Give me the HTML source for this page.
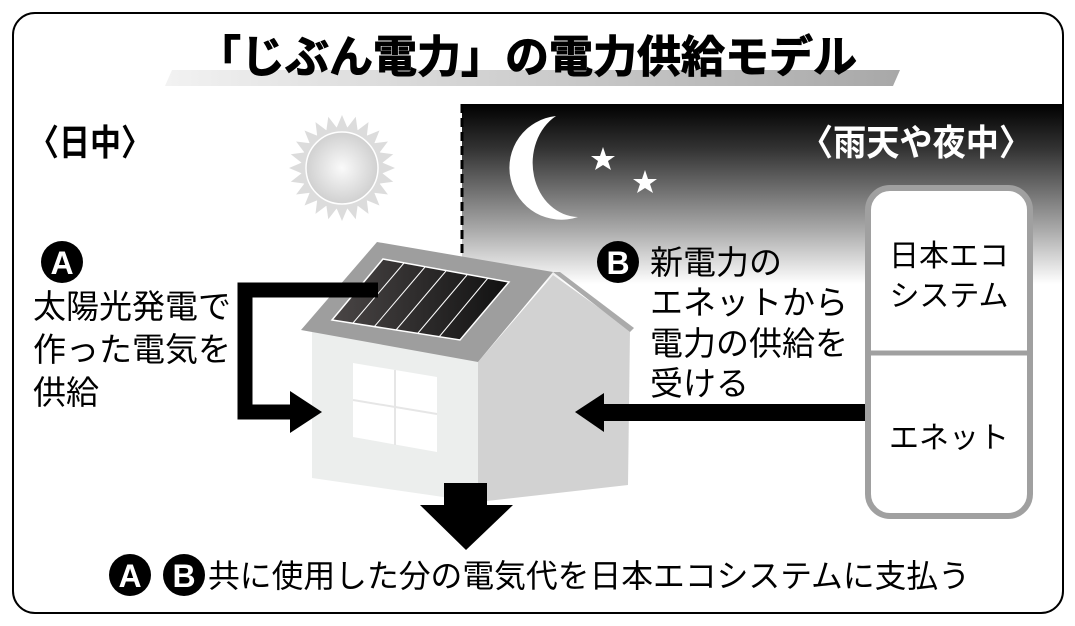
<!DOCTYPE html>
<html><head><meta charset="utf-8"><style>
html,body{margin:0;padding:0;background:#fff}
svg{display:block}
text{font-family:"Liberation Sans","Noto Sans CJK JP",sans-serif}
</style></head><body>
<svg width="1075" height="626" viewBox="0 0 1075 626" xmlns="http://www.w3.org/2000/svg">
<defs>
<linearGradient id="night" x1="0" y1="0" x2="0" y2="1">
<stop offset="0" stop-color="#000"/><stop offset="0.25" stop-color="#333"/><stop offset="0.7" stop-color="#aaa"/><stop offset="1" stop-color="#fff"/></linearGradient>
<linearGradient id="band" x1="0" y1="0" x2="1" y2="0">
<stop offset="0" stop-color="#f2f2f2"/><stop offset="1" stop-color="#a8a8a8"/></linearGradient>
<radialGradient id="sun" cx="0.5" cy="0.5" r="0.5"><stop offset="0" stop-color="#fafafa"/><stop offset="1" stop-color="#d0d0d0"/></radialGradient>
<linearGradient id="panel" x1="0" y1="0" x2="1" y2="0"><stop offset="0" stop-color="#4a4646"/><stop offset="1" stop-color="#111"/></linearGradient>
<clipPath id="clipb"><rect x="13" y="13" width="1050" height="600" rx="22"/></clipPath>
<polygon id="ray" points="342,115 347.5,128 336.5,128" fill="#dcdcdc"/>
</defs>
<g clip-path="url(#clipb)">
<rect x="462" y="104" width="610" height="180" fill="url(#night)"/>
</g>
<rect x="13" y="13" width="1050" height="600" rx="22" fill="none" stroke="#000" stroke-width="2"/>
<!-- title -->
<polygon points="172,70 900,70 893,86 165,86" fill="url(#band)"/>
<text x="527" y="72" font-size="44" font-weight="bold" text-anchor="middle" stroke="#000" stroke-width="1">「じぶん電力」の電力供給モデル</text>
<line x1="462" y1="104" x2="462" y2="256" stroke="#000" stroke-width="3" stroke-dasharray="9,5"/>
<!-- sun -->
<use href="#ray" transform="rotate(0 342 168)"/><use href="#ray" transform="rotate(15 342 168)"/><use href="#ray" transform="rotate(30 342 168)"/><use href="#ray" transform="rotate(45 342 168)"/><use href="#ray" transform="rotate(60 342 168)"/><use href="#ray" transform="rotate(75 342 168)"/><use href="#ray" transform="rotate(90 342 168)"/><use href="#ray" transform="rotate(105 342 168)"/><use href="#ray" transform="rotate(120 342 168)"/><use href="#ray" transform="rotate(135 342 168)"/><use href="#ray" transform="rotate(150 342 168)"/><use href="#ray" transform="rotate(165 342 168)"/><use href="#ray" transform="rotate(180 342 168)"/><use href="#ray" transform="rotate(195 342 168)"/><use href="#ray" transform="rotate(210 342 168)"/><use href="#ray" transform="rotate(225 342 168)"/><use href="#ray" transform="rotate(240 342 168)"/><use href="#ray" transform="rotate(255 342 168)"/><use href="#ray" transform="rotate(270 342 168)"/><use href="#ray" transform="rotate(285 342 168)"/><use href="#ray" transform="rotate(300 342 168)"/><use href="#ray" transform="rotate(315 342 168)"/><use href="#ray" transform="rotate(330 342 168)"/><use href="#ray" transform="rotate(345 342 168)"/>
<circle cx="342" cy="168" r="41" fill="#dcdcdc"/>
<circle cx="342" cy="168" r="36" fill="url(#sun)" stroke="#fff" stroke-width="1.5"/>
<!-- moon -->
<path d="M556,116 A52,52 0 1,0 578,217 A46,54 0 0,1 556,116 Z" fill="#fff"/>
<polygon fill="#fff" points="603,147 606,156 615,156 608,161 611,170 603,165 595,170 598,161 591,156 600,156"/>
<polygon fill="#fff" points="645,170 648,179 657,179 650,184 653,193 645,188 637,193 640,184 633,179 642,179"/>
<text x="800" y="155" font-size="36" font-weight="bold" fill="#fff" textLength="232" lengthAdjust="spacingAndGlyphs">〈雨天や夜中〉</text>
<text x="28" y="155" font-size="36" font-weight="bold" textLength="124" lengthAdjust="spacingAndGlyphs">〈日中〉</text>
<!-- house -->
<polygon points="478,362 553,275 630,330 628,485 478,502" fill="#d2d2d2"/>
<polygon points="553,272 560,272 634,328 630,332" fill="#aaa"/>
<polygon points="312,330 478,360 478,502 312,478" fill="#eceeed"/>
<polygon points="377,242 553,272 478,362 301,330" fill="#9e9e9e"/>
<polygon points="383,259 509,282 460,340 332,320" fill="url(#panel)" stroke="#fff" stroke-width="1.5"/>
<g stroke="#fff" stroke-width="1">
<line x1="404" y1="263" x2="353" y2="323"/><line x1="425" y1="267" x2="374" y2="327"/><line x1="446" y1="271" x2="396" y2="330"/><line x1="467" y1="275" x2="418" y2="333"/><line x1="488" y1="278" x2="439" y2="337"/>
</g>
<polygon points="353,363 437,377 437,452 353,437" fill="#fff"/>
<line x1="395" y1="370" x2="395" y2="445" stroke="#e6e6e6" stroke-width="2"/>
<line x1="353" y1="400" x2="437" y2="414" stroke="#e6e6e6" stroke-width="2"/>
<!-- arrows -->
<polyline points="378,290 245,290 245,412 296,412" fill="none" stroke="#000" stroke-width="15"/>
<polygon points="290,391 322,412 290,433" fill="#000"/>
<rect x="600" y="404" width="266" height="17" fill="#000"/>
<polygon points="604,393 575,412 604,432" fill="#000"/>
<rect x="444" y="483" width="43" height="24" fill="#000"/>
<polygon points="420,505 513,505 466,550" fill="#000"/>
<!-- box -->
<rect x="868" y="188" width="162" height="328" rx="22" fill="#fff" stroke="#a0a0a0" stroke-width="6"/>
<line x1="868" y1="353" x2="1030" y2="353" stroke="#a0a0a0" stroke-width="5"/>
<text x="949" y="266" font-size="30" text-anchor="middle">日本エコ</text>
<text x="949" y="306" font-size="30" text-anchor="middle">システム</text>
<text x="949" y="448" font-size="30" text-anchor="middle">エネット</text>
<!-- labels -->
<circle cx="62" cy="262" r="21" fill="#000"/>
<text x="62" y="274" font-size="32" font-weight="bold" fill="#fff" text-anchor="middle">A</text>
<g font-size="33">
<text x="33" y="318">太陽光発電で</text>
<text x="33" y="361">作った電気を</text>
<text x="33" y="404">供給</text>
</g>
<circle cx="618" cy="262" r="21" fill="#000"/>
<text x="618" y="274" font-size="32" font-weight="bold" fill="#fff" text-anchor="middle">B</text>
<g font-size="33">
<text x="650" y="274">新電力の</text>
<text x="650" y="314">エネットから</text>
<text x="650" y="355">電力の供給を</text>
<text x="650" y="395">受ける</text>
</g>
<circle cx="130" cy="575" r="21" fill="#000"/>
<text x="130" y="587" font-size="32" font-weight="bold" fill="#fff" text-anchor="middle">A</text>
<circle cx="184" cy="575" r="21" fill="#000"/>
<text x="184" y="587" font-size="32" font-weight="bold" fill="#fff" text-anchor="middle">B</text>
<text x="208" y="587" font-size="32" textLength="762" lengthAdjust="spacingAndGlyphs">共に使用した分の電気代を日本エコシステムに支払う</text>
</svg>
</body></html>
